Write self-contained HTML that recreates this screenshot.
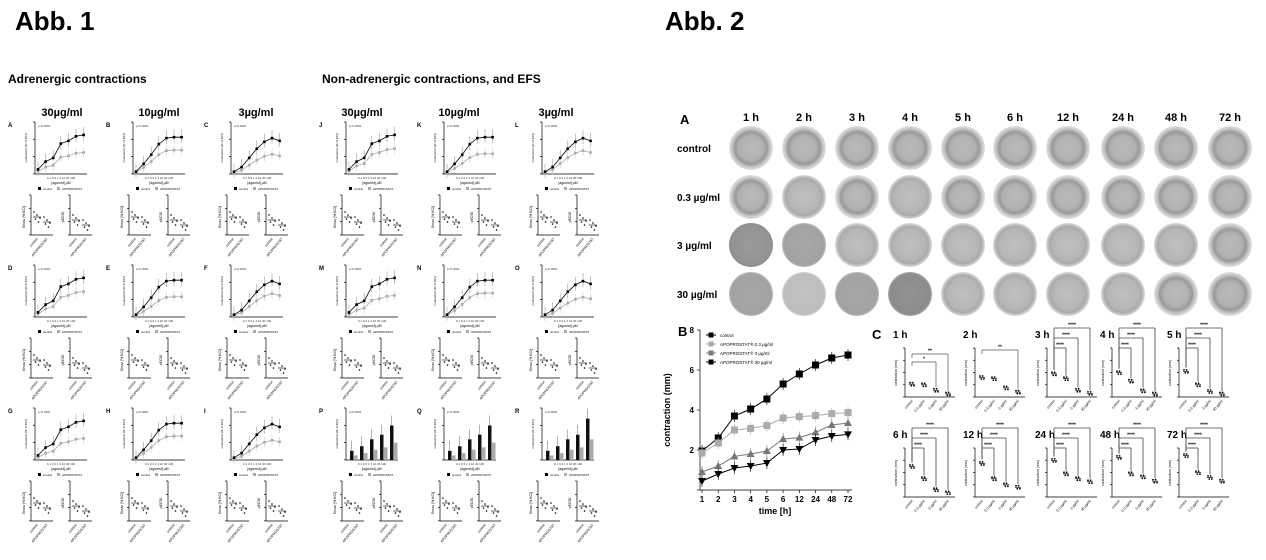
<!DOCTYPE html>
<html><head><meta charset="utf-8"><style>
body{margin:0;background:#fff;}
svg{display:block;font-family:"Liberation Sans",Arial,sans-serif;}
</style></head><body>
<svg id="s" width="1266" height="560" viewBox="0 0 1266 560" xmlns="http://www.w3.org/2000/svg">
<defs>
<radialGradient id="gC"><stop offset="0" stop-color="#bababa"/><stop offset="0.55" stop-color="#b2b2b2"/><stop offset="0.74" stop-color="#999"/><stop offset="0.84" stop-color="#bdbdbd"/><stop offset="1" stop-color="#e2e2e2"/></radialGradient>
<radialGradient id="gL"><stop offset="0" stop-color="#c0c0c0"/><stop offset="0.7" stop-color="#b6b6b6"/><stop offset="0.84" stop-color="#aaa"/><stop offset="1" stop-color="#dadada"/></radialGradient>
<radialGradient id="gD"><stop offset="0" stop-color="#9a9a9a"/><stop offset="0.9" stop-color="#939393"/><stop offset="1" stop-color="#8a8a8a"/></radialGradient>
<radialGradient id="gP"><stop offset="0" stop-color="#c2c2c2"/><stop offset="0.9" stop-color="#bdbdbd"/><stop offset="1" stop-color="#cfcfcf"/></radialGradient>
<radialGradient id="gM"><stop offset="0" stop-color="#a8a8a8"/><stop offset="0.9" stop-color="#a2a2a2"/><stop offset="1" stop-color="#b8b8b8"/></radialGradient>
<radialGradient id="gX"><stop offset="0" stop-color="#939393"/><stop offset="0.9" stop-color="#8c8c8c"/><stop offset="1" stop-color="#a5a5a5"/></radialGradient>
</defs>
<g id="g"></g>
</svg>
<script>
var o=[];
function t(x,y,s,sz,w,a,c,extra){o.push('<text x="'+x+'" y="'+y+'" font-size="'+sz+'" font-weight="'+(w||'normal')+'" text-anchor="'+(a||'start')+'" fill="'+(c||'#000')+'" '+(extra||'')+'>'+s+'</text>');}
function l(x1,y1,x2,y2,c,w){o.push('<line x1="'+x1+'" y1="'+y1+'" x2="'+x2+'" y2="'+y2+'" stroke="'+(c||'#000')+'" stroke-width="'+(w||0.7)+'"/>');}
function r(x,y,w,h,c){o.push('<rect x="'+x+'" y="'+y+'" width="'+w+'" height="'+h+'" fill="'+c+'"/>');}
function pl(p,c,w){o.push('<polyline points="'+p.join(' ')+'" fill="none" stroke="'+c+'" stroke-width="'+(w||0.8)+'"/>');}
t(15,30,'Abb. 1',26,'bold');t(665,30,'Abb. 2',26,'bold');
t(8,83,'Adrenergic contractions',12,'bold');t(322,83,'Non-adrenergic contractions, and EFS',12,'bold');
var hdr=['30µg/ml','10µg/ml','3µg/ml'];
for(var i=0;i<3;i++){t(62+97*i,116,hdr[i],11,'bold','middle');t(362+97*i,116,hdr[i],11,'bold','middle');}
var labs='ABCDEFGHIJKLMNOPQR';
var curvesA=[[.1,.27,.35,.66,.72,.82,.85],[.05,.22,.42,.65,.78,.8,.8],[.05,.15,.35,.55,.7,.78,.72]];
function panel(px,py,lab,bar,k){
 t(px-27,py+5,lab,6,'bold');
 var ax=px,top=py,bot=py+52,w=52;
 l(ax,top,ax,bot);l(ax,bot,ax+w,bot);
 for(var j=0;j<4;j++)l(ax-2,top+j*17.3,ax,top+j*17.3);
 t(ax+3,top+5,'p<0.0001',3,'normal','start','#333');
 o.push('<text x="'+(ax-8)+'" y="'+(top+26)+'" font-size="3" text-anchor="middle" transform="rotate(-90 '+(ax-8)+' '+(top+26)+')">contraction [% of KCl]</text>');
 var c=curvesA[k%3];
 if(!bar){
  var p1=[],p2=[];
  for(var j=0;j<7;j++){var x=ax+3+j*7.6;var y1=bot-c[j]*46,y2=bot-c[j]*(0.55+0.1*(k%2))*46;
   l(x,y1-8,x,y1+6,'#888',.5);l(x,y2-5,x,y2+5,'#ccc',.6);p1.push(x+','+y1);p2.push(x+','+y2);}
  pl(p2,'#aaa',.8);pl(p1,'#000',.8);
  for(var j=0;j<7;j++){var pp=p1[j].split(','),qq=p2[j].split(',');r(qq[0]-1.3,qq[1]-1.3,2.6,2.6,'#aaa');r(pp[0]-1.3,pp[1]-1.3,2.6,2.6,'#000');}
 } else {
  var hs=[.2,.3,.45,.55,.75];
  for(var j=0;j<5;j++){var x=ax+4+j*10;var h1=hs[j]*46*(k==17&&j==4?1.2:1),h2=h1*0.5;
   r(x,bot-h1,3.5,h1,'#111');r(x+4,bot-h2,3.5,h2,'#aaa');l(x+1.7,bot-h1-10,x+1.7,bot-h1,'#666',.5);}
 }
 t(ax+w/2,bot+5,'0.1 0.3 1 3 10 30 100',3,'normal','middle','#333');
 t(ax+w/2,bot+10,'[agonist] µM',3.5,'normal','middle');
 r(ax+3,bot+13,3,3,'#000');t(ax+8,bot+16,'control',3);r(ax+22,bot+13,3,3,'#aaa');t(ax+27,bot+16,'APOPROSTAT',3);
 var sy=py+73,sb=py+113;
 var xs=[ax-4,ax+35];
 for(var m=0;m<2;m++){var sx=xs[m];l(sx,sy,sx,sb);l(sx,sb,sx+22,sb);
  for(var j=0;j<4;j++)l(sx-2,sy+j*13.3,sx,sy+j*13.3);
  o.push('<text x="'+(sx-6)+'" y="'+(sy+22)+'" font-size="3.5" text-anchor="middle" transform="rotate(-90 '+(sx-6)+' '+(sy+22)+')">'+(m?'pEC50':'Emax [% KCl]')+'</text>');
  var base=m?sy+25:sy+22;
  for(var g=0;g<2;g++){var cx=sx+6+g*10;l(cx-4,base+g*5,cx+4,base+g*5,'#000',.6);
   for(var d=0;d<5;d++)o.push('<circle cx="'+(cx-3+d*1.5)+'" cy="'+(base+g*5+((d*7)%11)-5)+'" r="0.8" fill="#000"/>');
   o.push('<text x="'+(cx+1)+'" y="'+(sb+4)+'" font-size="3.5" text-anchor="end" transform="rotate(-50 '+(cx+1)+' '+(sb+4)+')">'+(g?'APOPROSTAT':'control')+'</text>');}
 }
}
for(var side=0;side<2;side++)for(var row=0;row<3;row++)for(var col=0;col<3;col++){
 var k=side*9+row*3+col;panel(35+side*311+col*98,122+row*143,labs[k],side==1&&row==2,k);}
t(680,124,'A',13,'bold');
var times=['1 h','2 h','3 h','4 h','5 h','6 h','12 h','24 h','48 h','72 h'];
var cxs=[751,804,857,910,963,1015,1068,1123,1176,1230];
for(var i=0;i<10;i++)t(cxs[i],121,times[i],11,'bold','middle');
var rows=[['control',148],['0.3 µg/ml',197],['3 µg/ml',245],['30 µg/ml',294]];
var fills=[['gC','gC','gC','gC','gC','gC','gC','gC','gC','gC'],
 ['gC','gL','gC','gL','gC','gC','gC','gC','gC','gC'],
 ['gD','gM','gL','gL','gL','gL','gL','gL','gL','gC'],
 ['gM','gP','gM','gX','gL','gL','gL','gL','gC','gC']];
for(var j=0;j<4;j++){t(677,rows[j][1]+4,rows[j][0],10,'bold');
 for(var i=0;i<10;i++)o.push('<circle cx="'+cxs[i]+'" cy="'+rows[j][1]+'" r="22" fill="url(#'+fills[j][i]+')"/>');}
t(678,336,'B',13,'bold');
var X0=702,dx=(848-702)/9;function Y(v){return 490-v*20;}
l(700,330,700,490);l(700,490,852,490);
for(var v=0;v<=8;v+=2){l(697,Y(v),700,Y(v));if(v)t(694,Y(v)+3,v,8,'bold','end');}
for(var i=0;i<10;i++){l(X0+i*dx,490,X0+i*dx,493);t(X0+i*dx,502,times[i].replace(' h',''),8,'bold','middle');}
t(775,514,'time [h]',9,'bold','middle');
o.push('<text x="670" y="410" font-size="9" font-weight="bold" text-anchor="middle" transform="rotate(-90 670 410)">contraction (mm)</text>');
var S=[[1.95,2.6,3.7,4.05,4.55,5.3,5.8,6.25,6.6,6.75,'#000','s'],[1.85,2.35,3.0,3.08,3.22,3.6,3.67,3.72,3.82,3.87,'#aaa','s'],[0.9,1.2,1.68,1.8,1.95,2.55,2.62,2.88,3.25,3.35,'#777','t'],[0.45,0.8,1.1,1.2,1.35,2.0,2.05,2.5,2.7,2.78,'#000','v']];
for(var s=0;s<4;s++){var p=[];for(var i=0;i<10;i++){p.push((X0+i*dx)+','+Y(S[s][i]));l(X0+i*dx,Y(S[s][i])-6,X0+i*dx,Y(S[s][i])+6,S[s][10],.6);}
 pl(p,S[s][10],1);
 for(var i=0;i<10;i++){var x=X0+i*dx,y=Y(S[s][i]);
  if(S[s][11]=='s')r(x-3.5,y-3.5,7,7,S[s][10]);
  else if(S[s][11]=='t')o.push('<polygon points="'+x+','+(y-4)+' '+(x-4)+','+(y+3)+' '+(x+4)+','+(y+3)+'" fill="'+S[s][10]+'"/>');
  else o.push('<polygon points="'+x+','+(y+4)+' '+(x-4)+','+(y-3)+' '+(x+4)+','+(y-3)+'" fill="'+S[s][10]+'"/>');}}
var lg=['control','APOPROSTAT® 0.3 µg/ml','APOPROSTAT® 3 µg/ml','APOPROSTAT® 30 µg/ml'];
for(var s=0;s<4;s++){var y=335+s*9;l(706,y,716,y,S[s][10],1);r(708.5,y-2.5,5,5,S[s][10]);t(720,y+2,lg[s],4.5);}
t(872,339,'C',13,'bold');
var cx0=[893,963,1035,1100,1167];
var cdat=[[2.1,2.0,1.1,.5],[3.2,3.0,1.5,.8],[3.8,3.0,1.1,.6],[4.0,2.6,1.0,.5],[4.2,2.0,.9,.5],[5.0,3.0,1.2,.7],[5.5,3.0,2.0,1.6],[6.0,3.8,3.0,2.5],[6.5,3.8,3.3,2.6],[6.8,4.0,3.2,2.6]];
for(var k=0;k<10;k++){var col=k%5,row=Math.floor(k/5);var bx=cx0[col],by=row?438:338;
 t(bx,by,times[k],10,'bold');
 var ax=bx+12,tp=by+10,bt=by+59;
 l(ax,tp,ax,bt);l(ax,bt,ax+50,bt);
 for(var j=0;j<5;j++)l(ax-2,tp+j*12.25,ax,tp+j*12.25);
 o.push('<text x="'+(ax-8)+'" y="'+(tp+25)+'" font-size="3.5" text-anchor="middle" transform="rotate(-90 '+(ax-8)+' '+(tp+25)+')">contraction (mm)</text>');
 var yc=[];
 for(var g=0;g<4;g++){var x=ax+7+g*12,y=bt-cdat[k][g]*6.1;yc.push(y);l(x-3,y,x+3,y,'#000',.7);
  for(var d=0;d<4;d++)o.push('<circle cx="'+(x-2+d*1.3)+'" cy="'+(y+(d%2?1.5:-1.5))+'" r="0.9" fill="#000"/>');
  o.push('<text x="'+(x+1)+'" y="'+(bt+4)+'" font-size="3.5" text-anchor="end" transform="rotate(-50 '+(x+1)+' '+(bt+4)+')">'+['control','0.3 µg/ml','3 µg/ml','30 µg/ml'][g]+'</text>');}
 if(k<2){
  var bs=k==0?[2,3]:[3];
  for(var b=0;b<bs.length;b++){var g=bs[b];var yb=tp+14-(g-2)*8-(k==1?4:0);var xe=ax+7+g*12;
   l(ax+7,yb,xe,yb,'#555',.7);l(ax+7,yb,ax+7,yb+4,'#555',.7);l(xe,yb,xe,yc[g]-3,'#555',.7);
   t((ax+7+xe)/2,yb-1.5,k==0&&g==2?'*':'**',5,'bold','middle');}
 } else {
  for(var g=1;g<4;g++){var yb=tp-(g-1)*10;var xe=ax+7+g*12;
   l(ax+7,yb,xe,yb,'#444',.8);l(ax+7,yb,ax+7,yc[0]-4,'#444',.8);l(xe,yb,xe,yc[g]-3,'#444',.8);
   t((ax+7+xe)/2,yb-1.5,'****',5,'bold','middle');}
 }
}
document.getElementById('g').innerHTML=o.join('');
</script>
</body></html>
